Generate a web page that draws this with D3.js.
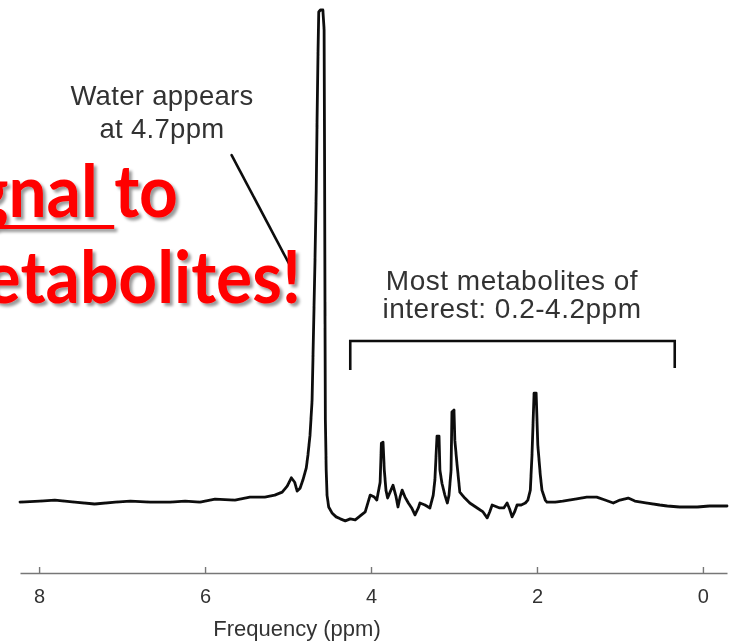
<!DOCTYPE html>
<html>
<head>
<meta charset="utf-8">
<script src="https://cdn.jsdelivr.net/npm/d3@7/dist/d3.min.js"></script>
<style>
  html, body { margin: 0; padding: 0; background: #fff; }
  svg { display: block; }
</style>
</head>
<body>
<svg id="chart" width="732" height="642"></svg>
<script>
// 1H MR spectrum: chemical shift (ppm) and relative signal (water peak = 100)
const ppm = [
  8.23, 7.99, 7.81, 7.57, 7.33, 7.08, 6.90, 6.66, 6.42, 6.24, 6.06, 5.88, 5.64, 5.46, 5.28, 5.16,
  5.07, 5.01, 4.96, 4.92, 4.89, 4.855, 4.82, 4.78, 4.76, 4.735, 4.71, 4.70, 4.69, 4.675, 4.66, 4.65,
  4.64, 4.63, 4.61, 4.58, 4.565, 4.56, 4.555, 4.55, 4.54, 4.53, 4.51, 4.47, 4.42, 4.37, 4.31, 4.25,
  4.19, 4.13, 4.07, 4.01, 3.96, 3.93, 3.89, 3.875, 3.855, 3.84, 3.82, 3.80, 3.76, 3.735, 3.70, 3.675,
  3.65, 3.625, 3.59, 3.55, 3.51, 3.47, 3.43, 3.41, 3.35, 3.29, 3.25, 3.23, 3.205, 3.18, 3.17, 3.145,
  3.11, 3.08, 3.06, 3.035, 3.025, 3.00, 2.99, 2.965, 2.93, 2.87, 2.81, 2.72, 2.65, 2.60, 2.57, 2.54,
  2.48, 2.45, 2.40, 2.36, 2.33, 2.30, 2.27, 2.24, 2.19, 2.14, 2.11, 2.08, 2.06, 2.035, 2.01, 1.99,
  1.96, 1.94, 1.90, 1.88, 1.78, 1.69, 1.54, 1.40, 1.28, 1.18, 1.08, 1.00, 0.90, 0.82, 0.67, 0.52,
  0.43, 0.28, 0.07, -0.08, -0.29
];
const signal = [
  0.6, 0.8, 1.0, 0.6, 0.2, 0.6, 0.8, 0.6, 0.6, 0.8, 0.6, 1.2, 1.0, 1.6, 1.6, 2.0,
  2.6, 3.8, 5.5, 4.6, 2.8, 3.4, 5.1, 7.5, 10.1, 14.1, 21.2, 29.3, 37.4, 49.5, 63.6, 77.8,
  89.9, 99.6, 100, 100, 96.0, 71.7, 41.4, 17.2, 7.1, 2.0, -0.4, -1.6, -2.4, -2.8, -3.2, -2.8,
  -3.0, -2.2, -1.4, 2.0, 1.6, 1.0, 4.6, 12.5, 12.7, 7.1, 3.0, 1.4, 3.0, 4.0, 1.8, -0.4,
  1.6, 3.0, 1.6, 0.4, -0.6, -2.0, -0.6, 0.4, 0.0, -0.6, 2.0, 5.1, 13.9, 13.9, 7.1, 4.4,
  2.0, 0.4, 2.0, 7.1, 18.8, 19.2, 13.1, 8.5, 2.6, 1.4, 0.4, -0.6, -1.4, -2.6, -1.4, 0.0,
  -0.4, -0.6, -0.6, 0.4, -0.8, -2.4, -1.4, 0.0, 0.0, 0.4, 1.0, 3.0, 10.1, 22.6, 22.6, 12.1,
  6.1, 3.0, 1.0, 0.6, 0.6, 0.8, 1.2, 1.6, 1.6, 1.0, 0.4, 1.0, 1.4, 0.8, 0.4, 0.0,
  -0.2, -0.4, -0.4, -0.2, -0.2
];
const tickValues = [8, 6, 4, 2, 0];
const axisTitle = "Frequency (ppm)";

// Annotations
const waterLabel = ["Water appears", "at 4.7ppm"];
const waterPointer = { from: [5.68, 70.7], to: [4.98, 48.5] };   // ppm, signal
const metaboliteLabel = ["Most metabolites of", "interest: 0.2-4.2ppm"];
const metaboliteRange = [4.25, 0.34];                               // bracket ends (ppm)
const slideLines = [
  { underlined: "signal ", rest: "to" },
  { underlined: "", rest: "metabolites!" }
];

const svg = d3.select("#chart");

const x = d3.scaleLinear().domain([d3.max(ppm), d3.min(ppm)]).range([20, 727]);
const y = d3.scaleLinear().domain([0, 100]).range([505, 10]);

const defs = svg.append("defs");
const shadow = defs.append("filter").attr("id", "shadow")
  .attr("x", "-10%").attr("y", "-20%").attr("width", "130%").attr("height", "150%");
shadow.append("feDropShadow")
  .attr("dx", 3).attr("dy", 3).attr("stdDeviation", 1.8)
  .attr("flood-color", "#000").attr("flood-opacity", 0.4);

const soft = defs.append("filter").attr("id", "soft");
soft.append("feGaussianBlur").attr("stdDeviation", 0.45);

// x axis with upward ticks
const axisY = 573;
const axis = d3.axisBottom(x).tickValues(tickValues).tickFormat(d3.format("d"))
  .tickSize(-6).tickSizeOuter(0).tickPadding(0);
const gAxis = svg.append("g").attr("transform", `translate(0,${axisY})`).call(axis)
  .attr("filter", "url(#soft)");
gAxis.select(".domain").attr("stroke", "#777").attr("stroke-width", 1.6);
gAxis.selectAll(".tick line").attr("stroke", "#777").attr("stroke-width", 1.4);
gAxis.selectAll(".tick text")
  .attr("y", 30).attr("dy", 0)
  .attr("fill", "#333")
  .style("font-family", "'Liberation Sans', Arial, sans-serif")
  .style("font-size", "20px");

svg.append("text")
  .attr("x", 297).attr("y", 636)
  .attr("text-anchor", "middle")
  .attr("fill", "#333")
  .attr("filter", "url(#soft)")
  .style("font-family", "'Liberation Sans', Arial, sans-serif")
  .style("font-size", "22px")
  .text(axisTitle);

// spectrum trace
const line = d3.line().x((d, i) => x(ppm[i])).y(d => y(d)).curve(d3.curveLinear);
svg.append("path")
  .datum(signal)
  .attr("d", line)
  .attr("fill", "none")
  .attr("stroke", "#111")
  .attr("stroke-width", 2.8)
  .attr("stroke-linejoin", "round")
  .attr("stroke-linecap", "round")
  .attr("filter", "url(#soft)");

// annotation text
const annFont = "'Liberation Sans', Arial, sans-serif";
const gAnn = svg.append("g").attr("filter", "url(#soft)");
gAnn.selectAll("text.water").data(waterLabel).join("text")
  .attr("class", "water")
  .attr("x", 162).attr("y", (d, i) => 105 + i * 33)
  .attr("text-anchor", "middle").attr("fill", "#333")
  .style("font-family", annFont).style("font-size", "27.5px")
  .style("letter-spacing", "0.3px")
  .text(d => d);

gAnn.append("line")
  .attr("x1", x(waterPointer.from[0])).attr("y1", y(waterPointer.from[1]))
  .attr("x2", x(waterPointer.to[0])).attr("y2", y(waterPointer.to[1]))
  .attr("stroke", "#111").attr("stroke-width", 2.6).attr("stroke-linecap", "round");

gAnn.selectAll("text.meta").data(metaboliteLabel).join("text")
  .attr("class", "meta")
  .attr("x", 512).attr("y", (d, i) => 290 + i * 28)
  .attr("text-anchor", "middle").attr("fill", "#333")
  .style("font-family", annFont).style("font-size", "28px")
  .style("letter-spacing", "0.5px")
  .text(d => d);

// bracket over the metabolite range
const bTop = 341;
gAnn.append("path")
  .attr("d", d3.line()([
    [x(metaboliteRange[0]), 370], [x(metaboliteRange[0]), bTop],
    [x(metaboliteRange[1]), bTop], [x(metaboliteRange[1]), 368]
  ]))
  .attr("fill", "none").attr("stroke", "#111").attr("stroke-width", 2.6);

// overlaid red slide text, running off the left edge
const gRed = svg.append("g").attr("filter", "url(#shadow)");
const redEnds = [178, 301];
const redBase = [217, 303];
const squeeze = 0.94;
slideLines.forEach((ln, i) => {
  const g = gRed.append("g")
    .attr("transform", `translate(${redEnds[i]},${redBase[i]}) scale(${squeeze},1)`);
  const t = g.append("text")
    .attr("x", 0).attr("y", 0)
    .attr("text-anchor", "end").attr("fill", "#ff0000")
    .style("font-family", "Lato, 'Open Sans', sans-serif")
    .style("font-weight", 700)
    .style("font-size", "72px");
  t.append("tspan").text(ln.underlined);
  t.append("tspan").text(ln.rest);
  if (ln.underlined.length) {
    const node = t.node();
    const x0 = node.getStartPositionOfChar(0).x;
    const x1 = node.getEndPositionOfChar(ln.underlined.length - 1).x;
    g.append("rect")
      .attr("x", x0).attr("y", 8)
      .attr("width", x1 - x0).attr("height", 4)
      .attr("fill", "#ff0000");
  }
});
</script>
</body>
</html>
